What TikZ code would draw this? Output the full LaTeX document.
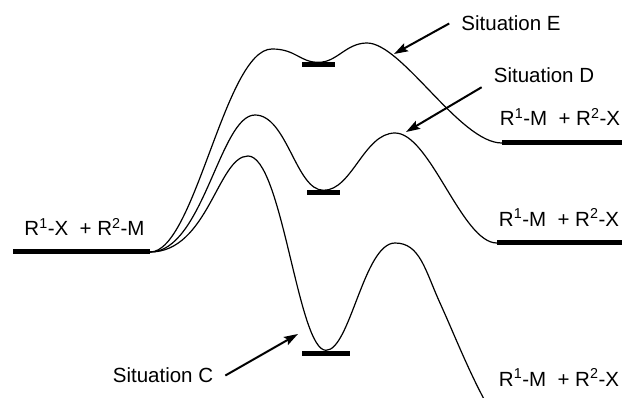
\documentclass[tikz,border=0pt]{standalone}
\usepackage{fontspec}
\setmainfont{Liberation Sans}
\usetikzlibrary{arrows.meta}

\begin{document}
\begin{tikzpicture}
    [x=1pt,y=-1pt,font=\fontsize{20.5}{24}\selectfont,
     level/.style={fill=black,inner sep=0pt,minimum height=5pt},
     profile/.style={line width=1.2pt},
     pointer/.style={line width=2pt,-{Stealth[length=14pt,width=9pt,inset=2.5pt]}},
     situation/.style={inner xsep=12pt,inner ysep=4pt}]

    \useasboundingbox (0,0) rectangle (624,398);
    \clip (0,0) rectangle (624,398);

    % starting level:
    \node (lvlL) at (81.5,252) [level,minimum width=137pt] {};
    \node (txtL) at (84.5,227) {R\textsuperscript{1}-X\ \ + R\textsuperscript{2}-M};

    % intermediate levels:
    \node (lvlE) at (318.5,65) [level,minimum width=33pt] {};
    \node (lvlD) at (323.5,193) [level,minimum width=33pt] {};
    \node (lvlC) at (326,353) [level,minimum width=48pt] {};

    % final levels:
    \node (lvlRE) at (562,143) [level,minimum width=120pt] {};
    \node (lvlRD) at (559.5,243) [level,minimum width=125pt] {};
    \node (txtRE) at (560,117) {R\textsuperscript{1}-M\ \ + R\textsuperscript{2}-X};
    \node (txtRD) at (559,217.5) {R\textsuperscript{1}-M\ \ + R\textsuperscript{2}-X};
    \node (txtRC) at (559,377.5) {R\textsuperscript{1}-M\ \ + R\textsuperscript{2}-X};

    % barriers:
    \coordinate (pkE1) at (272,49);
    \coordinate (pkE2) at (367,43);
    \coordinate (pkD1) at (255,115);
    \coordinate (pkD2) at (395,133);
    \coordinate (pkC1) at (248,156);
    \coordinate (pkC2) at (395,243);
    \coordinate (midC) at (440,303);
    \coordinate (endC) at (490,410);

    % profiles:
    \draw [profile] (lvlL.east) .. controls (195,252) and (225,49) .. (pkE1)
        .. controls (296,49) and (300,62.5) .. (lvlE.north)
        .. controls (337,62.5) and (346,43) .. (pkE2)
        .. controls (402,43) and (460,143) .. (lvlRE.west);
    \draw [profile] (lvlL.east) .. controls (203,252) and (220,115) .. (pkD1)
        .. controls (287,115) and (296,190.5) .. (lvlD.north)
        .. controls (352,190.5) and (364,133) .. (pkD2)
        .. controls (430,133) and (462,243) .. (lvlRD.west);
    \draw [profile] (lvlL.east) .. controls (208,252) and (218,156) .. (pkC1)
        .. controls (282,156) and (298,350.5) .. (lvlC.north)
        .. controls (350,350.5) and (364,243) .. (pkC2)
        .. controls (420,243) and (425,270) .. (midC)
        .. controls (455,336) and (470,375) .. (endC);

    % situations:
    \node (sitE) at (511,23.5) [situation] {Situation E};
    \node (sitD) at (544,75.5) [situation] {Situation D};
    \node (sitC) at (163,375.5) [situation] {Situation C};

    \coordinate (tipE) at (394,54);
    \coordinate (tipD) at (406,132);
    \coordinate (tipC) at (298,334);

    \draw [pointer] (sitE.west) to (tipE);
    \draw [pointer] (sitD.south west) to (tipD);
    \draw [pointer] (sitC.east) to (tipC);

  \end{tikzpicture}
\end{document}
